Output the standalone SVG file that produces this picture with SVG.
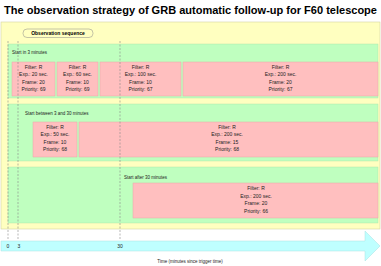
<svg xmlns="http://www.w3.org/2000/svg" width="381" height="266" viewBox="0 0 381 266">
<style>
text{font-family:"Liberation Sans",Arial,sans-serif;fill:#222}
.title{font-size:11px;font-weight:bold;fill:#000}
.lbl{font-size:4.5px}
.box text{font-size:5px;text-anchor:middle}
.pink{fill:#ffbfbf;stroke:#e8a8a8;stroke-width:0.5}
.green{fill:#bfffbf;stroke:#a8e0a8;stroke-width:0.4}
.dash{stroke:#888;stroke-width:0.6;stroke-dasharray:2 1.5;fill:none}
.tick{font-size:5px;text-anchor:middle}
</style>
<rect width="381" height="266" fill="#fff"/>
<text class="title" x="4" y="14" textLength="373" lengthAdjust="spacingAndGlyphs">The observation strategy of GRB automatic follow-up for F60 telescope</text>
<g id="frame">
<rect x="1" y="22" width="379" height="207" fill="#ffffc0" stroke="#d4d4a0" stroke-width="0.6"/>
</g>
<g id="seq-label">
<rect x="23" y="29" width="70" height="8.5" rx="4" fill="#ffffc0" stroke="#888" stroke-width="0.5"/>
<text x="58" y="35" style="font-size:5px;font-weight:bold;text-anchor:middle;fill:#000">Observation sequence</text>
</g>
<g id="row1">
<rect class="green" x="8" y="44" width="370" height="54"/>
<text class="lbl" x="12" y="54">Start in 3 minutes</text>
</g>
<g id="row2">
<rect class="green" x="8" y="104" width="370" height="57"/>
<text class="lbl" x="25" y="115">Start between 3 and 30 minutes</text>
</g>
<g id="row3">
<rect class="green" x="8" y="167" width="370" height="56"/>
<text class="lbl" x="124" y="179">Start after 30 minutes</text>
</g>
<g id="time-axis">
<polygon points="1,241 365,241 365,231 380,246 365,261 365,251 1,251" fill="#bfffff" stroke="#a8e0e0" stroke-width="0.5"/>
<text class="tick" x="8" y="248">0</text>
<text class="tick" x="19" y="248">3</text>
<text class="tick" x="120" y="248">30</text>
<text class="lbl" x="190" y="263" text-anchor="middle">Time (minutes since trigger time)</text>
</g>
<g id="r1b1" class="box"><rect class="pink" x="12" y="62" width="43" height="34"/>
<text x="33.5" y="68.5">Filter: R</text><text x="33.5" y="76">Exp.: 20 sec.</text><text x="33.5" y="83.5">Frame: 20</text><text x="33.5" y="91">Priority: 69</text></g>
<g id="r1b2" class="box"><rect class="pink" x="57" y="62" width="41" height="34"/>
<text x="77.5" y="68.5">Filter: R</text><text x="77.5" y="76">Exp.: 60 sec.</text><text x="77.5" y="83.5">Frame: 10</text><text x="77.5" y="91">Priority: 69</text></g>
<g id="r1b3" class="box"><rect class="pink" x="100" y="62" width="81" height="34"/>
<text x="140.5" y="68.5">Filter: R</text><text x="140.5" y="76">Exp.: 100 sec.</text><text x="140.5" y="83.5">Frame: 10</text><text x="140.5" y="91">Priority: 67</text></g>
<g id="r1b4" class="box"><rect class="pink" x="183" y="62" width="195" height="34"/>
<text x="280.5" y="68.5">Filter: R</text><text x="280.5" y="76">Exp.: 200 sec.</text><text x="280.5" y="83.5">Frame: 20</text><text x="280.5" y="91">Priority: 67</text></g>
<g id="r2b1" class="box"><rect class="pink" x="33" y="122" width="44" height="35"/>
<text x="55" y="128.5">Filter: R</text><text x="55" y="136">Exp.: 50 sec.</text><text x="55" y="143.5">Frame: 10</text><text x="55" y="151">Priority: 68</text></g>
<g id="r2b2" class="box"><rect class="pink" x="79" y="122" width="299" height="35"/>
<text x="227" y="128.5">Filter: R</text><text x="227" y="136">Exp.: 200 sec.</text><text x="227" y="143.5">Frame: 15</text><text x="227" y="151">Priority: 68</text></g>
<g id="r3b1" class="box"><rect class="pink" x="133" y="183" width="245" height="35"/>
<text x="256" y="190">Filter: R</text><text x="256" y="197.5">Exp.: 200 sec.</text><text x="256" y="205">Frame: 20</text><text x="256" y="212.5">Priority: 66</text></g>
<g id="connectors">
<line class="dash" x1="8" y1="41" x2="8" y2="240"/>
<line class="dash" x1="18" y1="41" x2="18" y2="240"/>
<line class="dash" x1="120" y1="41" x2="120" y2="240"/>
</g>
</svg>
